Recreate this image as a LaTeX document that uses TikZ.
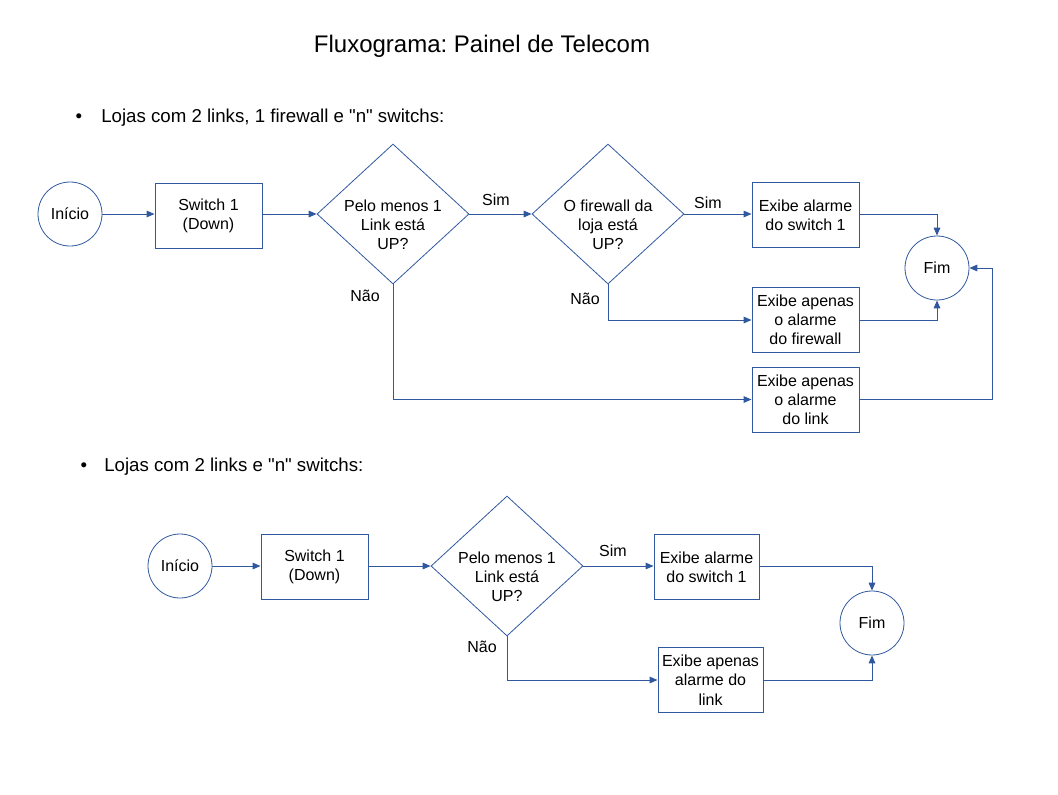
\documentclass[tikz,border=0pt]{standalone}
\usepackage{fontspec}
\setmainfont{Liberation Sans}
\usetikzlibrary{shapes.geometric,arrows.meta}
\definecolor{azul}{RGB}{47,88,158}
\newcommand{\ftexto}{\fontsize{12}{14.4}\selectfont}
\frenchspacing
\tikzset{
  caixa/.style={draw=azul, line width=0.75pt, minimum width=80.25pt, minimum height=48.75pt, inner sep=0pt, align=center, font=\ftexto},
  terminal/.style={circle, draw=azul, line width=0.6pt, minimum size=48pt, inner sep=0pt, font=\ftexto},
  decisao/.style={diamond, draw=azul, line width=0.6pt, minimum width=114pt, minimum height=105pt, inner sep=0pt},
  pergunta/.style={align=center, font=\ftexto, inner sep=0pt, yshift=-8pt},
  rotulo/.style={font=\ftexto, inner sep=0pt},
  topico/.style={font=\fontsize{14}{16.8}\selectfont, inner sep=0pt, anchor=base west},
  fluxo/.style={draw=azul, line width=0.75pt, -{Triangle[length=6pt,width=5pt]}}
}
\begin{document}
\begin{tikzpicture}[x=0.75pt,y=-0.75pt]%painel
\useasboundingbox (0,0) rectangle (1058,794);
\node[font=\fontsize{18}{21.6}\selectfont, inner sep=0pt, anchor=base] (titulo) at (482,52) {Fluxograma: Painel de Telecom};
% lojas com firewall
\node[font=\fontsize{14}{16.8}\selectfont, inner sep=0pt, anchor=base] (bul1) at (79,122) {\textbullet};
\node[topico] (top1) at (101,122) {Lojas com 2 links, 1 firewall e \textquotedbl n\textquotedbl{} switchs:};
\node[terminal] (ini1) at (70,214) {Início};
\node[caixa] (sw1) at (208.5,216) {Switch 1\\(Down)};
\node[decisao, label={[pergunta]center:Pelo menos 1\\Link está\\UP?}] (dec1) at (393,214) {};
\node[decisao, label={[pergunta]center:O firewall da\\loja está\\UP?}] (dec2) at (608,214) {};
\node[caixa] (al1) at (805.5,215) {Exibe alarme\\do switch 1};
\node[caixa] (al2) at (805.5,320) {Exibe apenas\\o alarme\\do firewall};
\node[caixa] (al3) at (805.5,399.5) {Exibe apenas\\o alarme\\do link};
\node[terminal] (fim1) at (937,268) {Fim};
\node[rotulo] (sim1) at (496,200) {Sim};
\node[rotulo] (sim2) at (708,203) {Sim};
\node[rotulo] (nao1) at (365,296) {Não};
\node[rotulo] (nao2) at (585,299) {Não};
\draw[fluxo] (ini1) -- (ini1 -| sw1.west);
\draw[fluxo] (sw1.east |- dec1) -- (dec1.west);
\draw[fluxo] (dec1.east) -- (dec2.west);
\draw[fluxo] (dec2.east) -- (dec2.east -| al1.west);
\draw[fluxo] (dec1.south) |- (al3.west);
\draw[fluxo] (dec2.south) |- (al2.west);
\draw[fluxo] (al1.east |- dec2) -| (fim1.north);
\draw[fluxo] (al2.east) -| (fim1.south);
\draw[fluxo] (al3.east) -- ++(133,0) |- (fim1.east);
% lojas sem firewall
\node[font=\fontsize{14}{16.8}\selectfont, inner sep=0pt, anchor=base] (bul2) at (84,471) {\textbullet};
\node[topico] (top2) at (104,471) {Lojas com 2 links e \textquotedbl n\textquotedbl{} switchs:};
\node[terminal] (ini2) at (180,566) {Início};
\node[caixa] (sw2) at (314.5,567) {Switch 1\\(Down)};
\node[decisao, label={[pergunta]center:Pelo menos 1\\Link está\\UP?}] (dec3) at (507,566) {};
\node[caixa, minimum width=78.75pt] (al4) at (706.5,567) {Exibe alarme\\do switch 1};
\node[caixa, minimum width=78.75pt] (al5) at (710.5,680) {Exibe apenas\\alarme do\\link};
\node[terminal] (fim2) at (872,623) {Fim};
\node[rotulo] (sim3) at (613,551) {Sim};
\node[rotulo] (nao3) at (482,647) {Não};
\draw[fluxo] (ini2) -- (ini2 -| sw2.west);
\draw[fluxo] (sw2.east |- dec3) -- (dec3.west);
\draw[fluxo] (dec3.east) -- (dec3.east -| al4.west);
\draw[fluxo] (dec3.south) |- (al5.west);
\draw[fluxo] (al4.east |- dec3) -| (fim2.north);
\draw[fluxo] (al5.east) -| (fim2.south);
\end{tikzpicture}
\end{document}
